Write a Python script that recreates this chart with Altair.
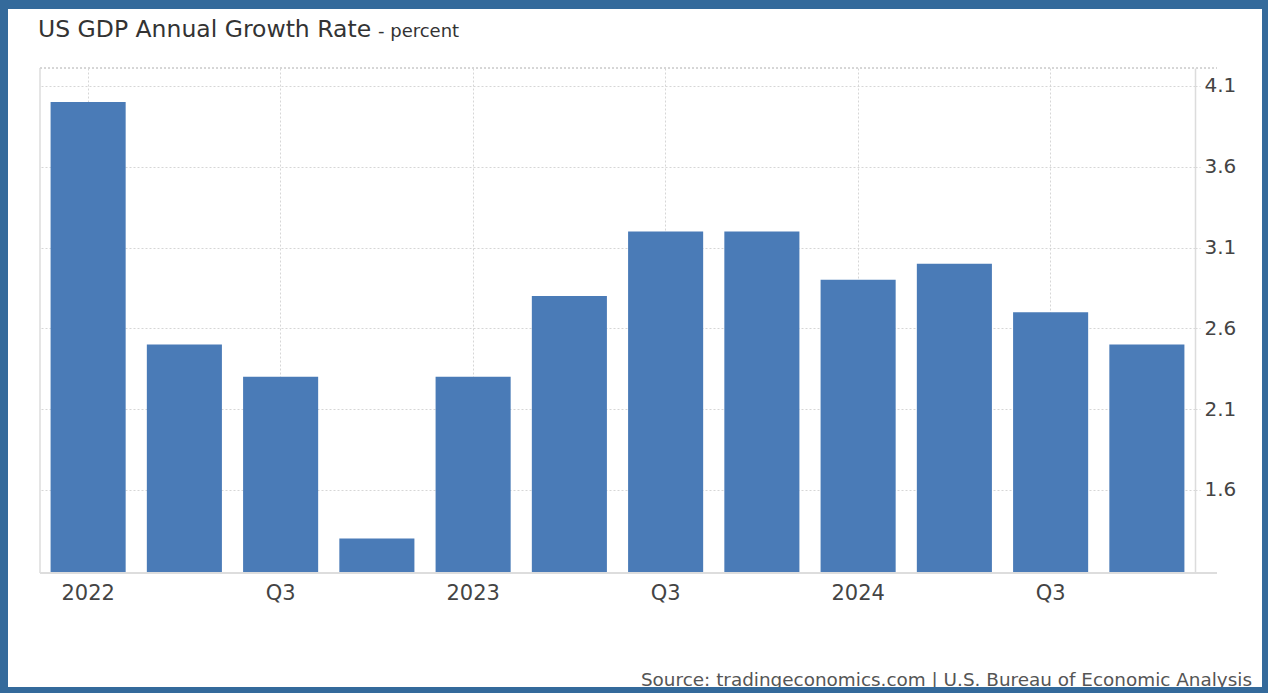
import altair as alt
import pandas as pd

# Quarterly US GDP annual growth rate, percent
quarters = ["2022 Q1", "2022 Q2", "2022 Q3", "2022 Q4",
            "2023 Q1", "2023 Q2", "2023 Q3", "2023 Q4",
            "2024 Q1", "2024 Q2", "2024 Q3", "2024 Q4"]
growth = [4.0, 2.5, 2.3, 1.3, 2.3, 2.8, 3.2, 3.2, 2.9, 3.0, 2.7, 2.5]

# Axis labelling
labelled_quarters = ["2022 Q1", "2022 Q3", "2023 Q1", "2023 Q3", "2024 Q1", "2024 Q3"]
y_ticks = [1.6, 2.1, 2.6, 3.1, 3.6, 4.1]
y_domain = [1.086, 4.211]

TITLE = "US GDP Annual Growth Rate"
SUBTITLE = "- percent"
SOURCE = "Source: tradingeconomics.com | U.S. Bureau of Economic Analysis"

W, H = 1155, 505
FONT = "DejaVu Sans"
GRID = "#d6d6d6"
BAR = "#4a7bb7"
FRAME = "#346a9b"

df = pd.DataFrame({"quarter": quarters, "growth": growth})

label_expr = (
    "indexof(datum.value, 'Q1') >= 0 ? slice(datum.value, 0, 4) : 'Q3'"
)

x_enc = alt.X(
    "quarter:N",
    sort=quarters,
    scale=alt.Scale(paddingInner=0.22, paddingOuter=0.11),
    axis=alt.Axis(
        title=None,
        values=labelled_quarters,
        labelExpr=label_expr,
        bandPosition=0.5,
        ticks=False,
        domain=False,
        grid=True,
        gridColor=GRID,
        gridDash=[2, 2],
        gridWidth=1,
        labelFont=FONT,
        labelFontSize=21,
        labelColor="#444444",
        labelPadding=9,
        labelAngle=0,
    ),
)

y_enc = alt.Y(
    "growth:Q",
    scale=alt.Scale(domain=y_domain, zero=False, nice=False),
    axis=alt.Axis(
        title=None,
        orient="right",
        values=y_ticks,
        format=".1f",
        grid=True,
        gridColor=GRID,
        gridDash=[2, 2],
        gridWidth=1,
        domain=True,
        domainColor="#dcdcdc",
        domainWidth=1.5,
        ticks=True,
        tickSize=5,
        tickColor=GRID,
        tickDash=[2, 2],
        labelFont=FONT,
        labelFontSize=20,
        labelColor="#444444",
        labelPadding=4,
    ),
)

bars = alt.Chart(df).mark_bar(color=BAR).encode(
    x=x_enc,
    y=y_enc,
    y2=alt.datum(y_domain[0]),
)

# baseline along the bottom, running a little past the value axis
baseline = alt.Chart(df).mark_rule(color="#dcdcdc", strokeWidth=1.5).encode(
    x=alt.value(0), x2=alt.value(W + 22), y=alt.value(H)
)
# dotted line along the top of the plot and solid left edge
top_line = alt.Chart(df).mark_rule(color=GRID, strokeDash=[2, 2]).encode(
    x=alt.value(0), x2=alt.value(W + 22), y=alt.value(0)
)
left_edge = alt.Chart(df).mark_rule(color="#e4e4e4", strokeWidth=1.5).encode(
    x=alt.value(0), y=alt.value(0), y2=alt.value(H)
)

title = alt.Chart(pd.DataFrame({"t": [TITLE]})).mark_text(
    align="left", baseline="alphabetic", font=FONT, fontSize=23.5, color="#333333"
).encode(x=alt.value(-2), y=alt.value(-31), text="t:N")

subtitle = alt.Chart(pd.DataFrame({"t": [SUBTITLE]})).mark_text(
    align="left", baseline="alphabetic", font=FONT, fontSize=18, color="#333333"
).encode(x=alt.value(338), y=alt.value(-31), text="t:N")

source = alt.Chart(pd.DataFrame({"t": [SOURCE]})).mark_text(
    align="right", baseline="alphabetic", font=FONT, fontSize=18.4, color="#555555"
).encode(x=alt.value(1212), y=alt.value(618), text="t:N")

# blue picture frame around the whole graphic
frame = alt.Chart(pd.DataFrame({"k": [0]})).mark_rect(
    fill="white", fillOpacity=0, stroke=FRAME, strokeWidth=16
).encode(
    x=alt.value(-40), x2=alt.value(W + 75), y=alt.value(-67), y2=alt.value(H + 122)
)

chart = alt.layer(
    left_edge, top_line, bars, baseline, title, subtitle, source, frame
).properties(
    width=W,
    height=H,
    padding={"left": 40, "top": 68, "right": 73, "bottom": 120},
    autosize=alt.AutoSizeParams(type="none"),
    background="white",
).configure_view(stroke=None)

chart.save("out.html", embed_options={"renderer": "svg", "actions": False})
